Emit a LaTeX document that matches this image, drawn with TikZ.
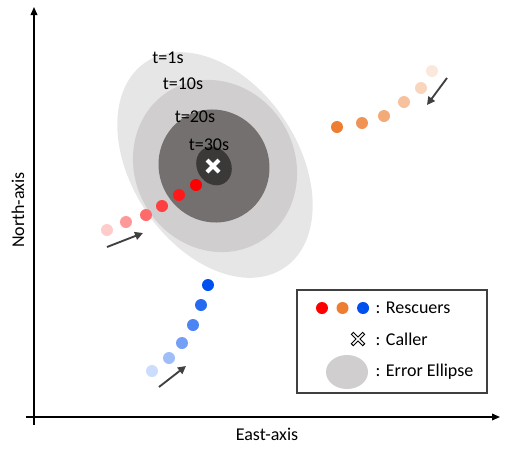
\documentclass[tikz,border=0pt]{standalone}
\usepackage{fontspec}
\setmainfont{Carlito}
\usepackage{xcolor}
\usetikzlibrary{arrows.meta}
\usetikzlibrary{positioning}
\definecolor{ellone}{HTML}{E7E6E6}
\definecolor{elltwo}{HTML}{D0CECE}
\definecolor{ellthree}{HTML}{747070}
\definecolor{ellfour}{HTML}{3B3838}
\definecolor{resred}{HTML}{FF0000}
\definecolor{resorange}{HTML}{ED7D31}
\definecolor{resblue}{HTML}{0050EF}
\definecolor{walkgray}{HTML}{404040}
\definecolor{legendgray}{HTML}{404040}

\begin{document}
\begin{tikzpicture}[x=0.75pt,y=-0.75pt,font=\fontsize{13.5}{16}\selectfont]
\tikzset{dot/.style={circle,inner sep=0pt,minimum size=9pt},
 walk/.style={draw=walkgray,line width=1.4pt,-{Triangle[length=6pt,width=6pt]}},
 axis/.style={line width=1.1pt,-{Triangle[length=6pt,width=5pt]}}}
\useasboundingbox (0,0) rectangle (508,458);

% error ellipses
\fill[ellone,rotate around={-56:(215,165)}] (215,165) ellipse[x radius=124,y radius=83];
\fill[elltwo,rotate around={-60:(215,166)}] (215,166) ellipse[x radius=88,y radius=80];
\fill[ellthree,rotate around={-60:(214,166)}] (214,166) ellipse[x radius=57,y radius=55];
\fill[ellfour,rotate around={-60:(214,166)}] (214,166) ellipse[x radius=20,y radius=17];
\draw[white,line width=3pt] (207,160) -- (219,172) (207,172) -- (219,160);
\node (tone) at (168,58) {t=1s};
\node (tten) at (183,84) {t=10s};
\node (ttwenty) at (195,117) {t=20s};
\node (tthirty) at (209,145) {t=30s};

% rescuers
\foreach \x/\y/\o [count=\i] in {107/230/20,126/222/40,146/215/58,162/206/75,179/195/90,196/185/100}
  \node[dot,fill=resred!\o!white] (r\i) at (\x,\y) {};
\foreach \x/\y/\o [count=\i] in {337/127/100,362/123/82,384/116/65,404/102/48,421/88/32,432/71/18}
  \node[dot,fill=resorange!\o!white] (o\i) at (\x,\y) {};
\foreach \x/\y/\o [count=\i] in {208/285/100,201/305/85,193/325/70,182/343/55,169/358/38,152/371/20}
  \node[dot,fill=resblue!\o!white] (b\i) at (\x,\y) {};

\coordinate (rfrom) at (107,247); \coordinate (rto) at (143,233);
\coordinate (ofrom) at (447,78); \coordinate (oto) at (427,105);
\coordinate (bfrom) at (159,387); \coordinate (bto) at (186,366);
\draw[walk] (rfrom) -- (rto);
\draw[walk] (ofrom) -- (oto);
\draw[walk] (bfrom) -- (bto);

% axes
\coordinate (nbot) at (34,425); \coordinate (ntop) at (34,7);
\coordinate (eleft) at (26,417); \coordinate (eright) at (500,417);
\draw[axis] (nbot) -- (ntop);
\draw[axis] (eleft) -- (eright);
\node[rotate=90] (northlabel) at (18,210) {North-axis};
\node (eastlabel) at (267,434) {East-axis};

% legend
\node[draw=legendgray,line width=1.1pt,fill=white,minimum width=142.5pt,minimum height=77.25pt] (legend) at (392,341.5) {};
\node[dot,fill=resred] (lred) at (322,308) {};
\node[dot,fill=resorange,right=6pt of lred] (lorange) {};
\node[dot,fill=resblue,right=6pt of lorange] (lblue) {};
\node[anchor=west] (lrescuers) at (371,308) {: Rescuers};
\draw[black,line width=2.8pt] (352,333) -- (364,345) (352,345) -- (364,333);
\draw[white,line width=1.2pt] (352.8,333.8) -- (363.2,344.2) (352.8,344.2) -- (363.2,333.8);
\node[anchor=west] (lcaller) at (371,339) {: Caller};
\fill[elltwo] (347,372) ellipse[x radius=21,y radius=17];
\node[anchor=west] (lerror) at (371,372) {: Error Ellipse};
\end{tikzpicture}
\end{document}
